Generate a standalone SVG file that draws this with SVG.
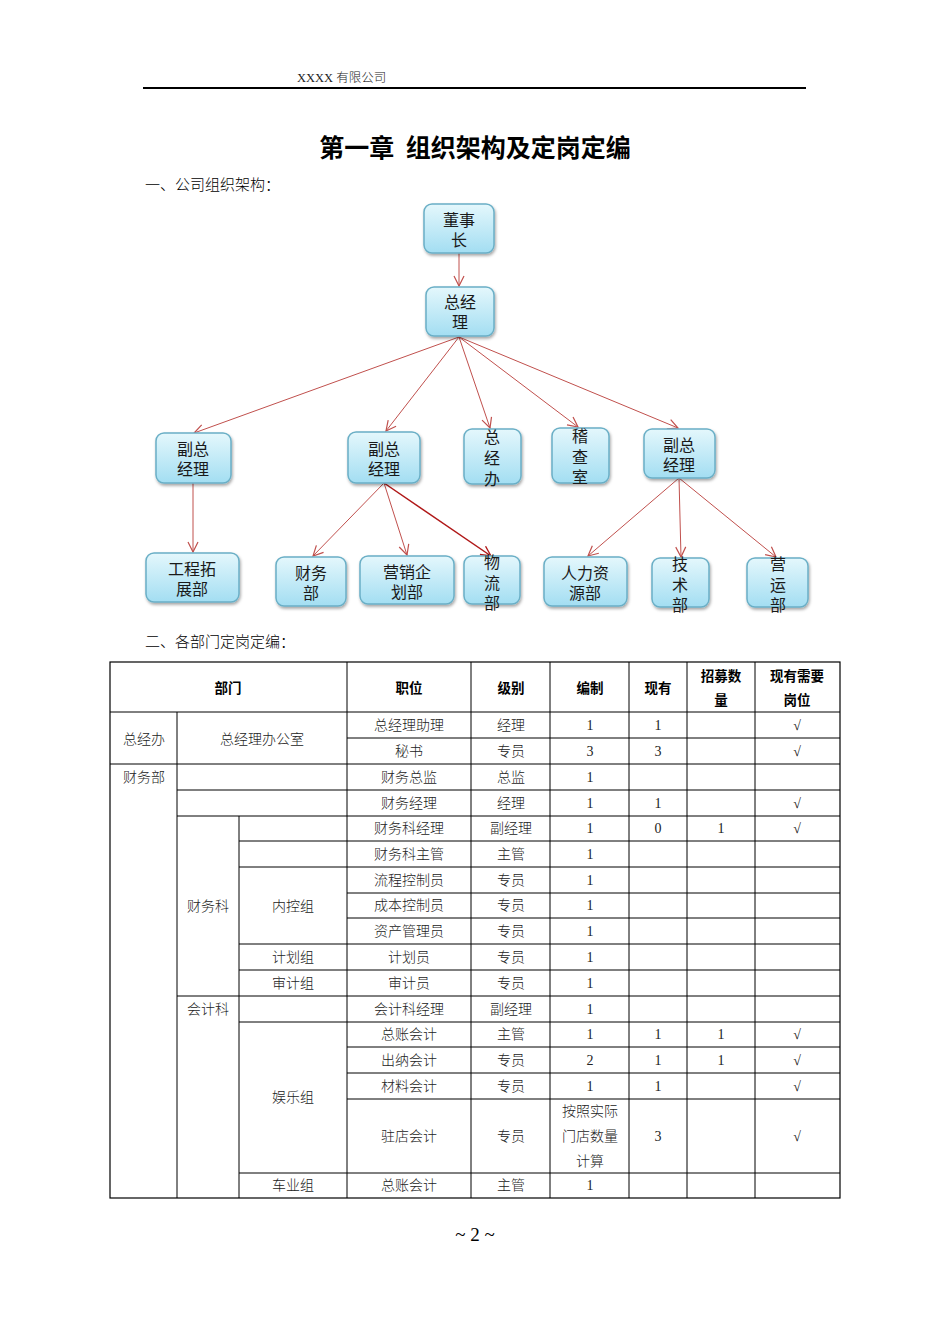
<svg xmlns="http://www.w3.org/2000/svg" width="950" height="1344" viewBox="0 0 950 1344">
<defs>
<linearGradient id="nodeGrad" x1="0" y1="0" x2="0" y2="1">
<stop offset="0" stop-color="#e4f7fc"/>
<stop offset="1" stop-color="#a3def2"/>
</linearGradient>
<filter id="shadow" x="-20%" y="-20%" width="150%" height="150%">
<feDropShadow dx="1" dy="2" stdDeviation="1.6" flood-color="#000" flood-opacity="0.35"/>
</filter>
<marker id="arrow" viewBox="0 0 12 12" refX="11" refY="6" markerWidth="12" markerHeight="12" markerUnits="userSpaceOnUse" orient="auto">
<path d="M1,1 L11,6 L1,11" fill="none" stroke="#c0504d" stroke-width="1.2"/>
</marker>
<marker id="arrowDark" viewBox="0 0 12 12" refX="11" refY="6" markerWidth="12" markerHeight="12" markerUnits="userSpaceOnUse" orient="auto">
<path d="M1,1 L11,6 L1,11" fill="none" stroke="#b01818" stroke-width="1.4"/>
</marker>
</defs>
<style>
.node rect { fill: url(#nodeGrad); stroke: #6aafc6; stroke-width: 1.5; filter: url(#shadow); }
.node text { font-family: "Noto Sans CJK SC", sans-serif; font-size: 16px; fill: #1a1a1a; text-anchor: middle; }
.conn line { stroke: #c0504d; stroke-width: 1; marker-end: url(#arrow); }
.conn line.dark { stroke: #b01818; stroke-width: 1.5; marker-end: url(#arrowDark); }
.tl { stroke: #000; stroke-width: 1; }
.th { font-family: "Noto Sans CJK SC", sans-serif; font-weight: bold; font-size: 13.5px; fill: #000; text-anchor: middle; }
.td { font-family: "Liberation Serif", "Noto Sans CJK SC", serif; font-size: 14px; fill: #222; text-anchor: middle; font-weight: 300; }
.h2 { font-family: "Liberation Serif", "Noto Sans CJK SC", serif; font-size: 15px; fill: #000; font-weight: 300; }
</style>
<rect width="950" height="1344" fill="#fff"/>

<!-- page header -->
<text x="297" y="82" font-family="Liberation Serif, Noto Sans CJK SC, serif" font-size="12.5" fill="#222" font-weight="300">XXXX 有限公司</text>
<line x1="143" y1="88" x2="806" y2="88" stroke="#000" stroke-width="2"/>

<text x="475" y="157" font-family="Noto Sans CJK SC, sans-serif" font-size="25" font-weight="bold" fill="#000" text-anchor="middle" xml:space="preserve">第一章  组织架构及定岗定编</text>
<text class="h2" x="145" y="190">一、公司组织架构：</text>

<!-- connectors -->
<g id="connectors" class="conn">
<line x1="459" y1="253" x2="459" y2="286"/>
<line x1="459" y1="337" x2="194" y2="433"/>
<line x1="459" y1="337" x2="386" y2="431"/>
<line x1="459" y1="337" x2="490" y2="428"/>
<line x1="459" y1="337" x2="578" y2="427"/>
<line x1="459" y1="337" x2="678" y2="428"/>
<line x1="193" y1="483" x2="193" y2="552"/>
<line x1="384" y1="483" x2="313" y2="556"/>
<line x1="384" y1="483" x2="407" y2="555"/>
<line class="dark" x1="384" y1="483" x2="491" y2="556"/>
<line x1="679" y1="478" x2="588" y2="556"/>
<line x1="679" y1="478" x2="681" y2="557"/>
<line x1="679" y1="478" x2="776" y2="557"/>
</g>

<!-- nodes -->
<g id="n-chairman" class="node"><rect x="424" y="204" width="70" height="49" rx="8"/><text x="459" y="226">董事</text><text x="459" y="246">长</text></g>
<g id="n-gm" class="node"><rect x="426" y="287" width="68" height="49" rx="8"/><text x="460" y="308">总经</text><text x="460" y="328">理</text></g>

<g id="n-vp1" class="node"><rect x="156" y="433" width="75" height="50" rx="8"/><text x="193" y="455">副总</text><text x="193" y="475">经理</text></g>
<g id="n-vp2" class="node"><rect x="348" y="432" width="72" height="51" rx="8"/><text x="384" y="455">副总</text><text x="384" y="475">经理</text></g>
<g id="n-gmo" class="node"><rect x="464" y="429" width="57" height="55" rx="8"/><text x="492" y="443">总</text><text x="492" y="464">经</text><text x="492" y="485">办</text></g>
<g id="n-audit" class="node"><rect x="552" y="428" width="57" height="55" rx="8"/><text x="580" y="442">稽</text><text x="580" y="463">查</text><text x="580" y="483">室</text></g>
<g id="n-vp3" class="node"><rect x="644" y="429" width="71" height="49" rx="8"/><text x="679" y="451">副总</text><text x="679" y="471">经理</text></g>

<g id="n-eng" class="node"><rect x="146" y="553" width="93" height="49" rx="8"/><text x="192" y="575">工程拓</text><text x="192" y="595">展部</text></g>
<g id="n-fin" class="node"><rect x="276" y="557" width="70" height="49" rx="8"/><text x="311" y="579">财务</text><text x="311" y="599">部</text></g>
<g id="n-mkt" class="node"><rect x="360" y="556" width="94" height="48" rx="8"/><text x="407" y="578">营销企</text><text x="407" y="598">划部</text></g>
<g id="n-log" class="node"><rect x="464" y="556" width="56" height="48" rx="8"/><text x="492" y="568">物</text><text x="492" y="589">流</text><text x="492" y="609">部</text></g>
<g id="n-hr" class="node"><rect x="544" y="557" width="83" height="49" rx="8"/><text x="585" y="579">人力资</text><text x="585" y="599">源部</text></g>
<g id="n-tech" class="node"><rect x="652" y="558" width="57" height="49" rx="8"/><text x="680" y="570">技</text><text x="680" y="591">术</text><text x="680" y="611">部</text></g>
<g id="n-ops" class="node"><rect x="747" y="558" width="61" height="49" rx="8"/><text x="778" y="570">营</text><text x="778" y="591">运</text><text x="778" y="611">部</text></g>

<text class="h2" x="145" y="647">二、各部门定岗定编：</text>

<!-- table -->
<g id="table">
<rect x="110" y="662" width="730" height="536" fill="none" stroke="#000" stroke-width="1.2"/>
<line class="tl" x1="177" y1="712" x2="177" y2="1198"/>
<line class="tl" x1="239" y1="816" x2="239" y2="1198"/>
<line class="tl" x1="347" y1="662" x2="347" y2="1198"/>
<line class="tl" x1="471" y1="662" x2="471" y2="1198"/>
<line class="tl" x1="550" y1="662" x2="550" y2="1198"/>
<line class="tl" x1="629" y1="662" x2="629" y2="1198" stroke="#555"/>
<line class="tl" x1="687" y1="662" x2="687" y2="1198"/>
<line class="tl" x1="755" y1="662" x2="755" y2="1198"/>
<line class="tl" x1="110" y1="712" x2="840" y2="712"/>
<line class="tl" x1="347" y1="738" x2="840" y2="738"/>
<line class="tl" x1="110" y1="764" x2="840" y2="764"/>
<line class="tl" x1="177" y1="790" x2="840" y2="790"/>
<line class="tl" x1="177" y1="816" x2="840" y2="816"/>
<line class="tl" x1="239" y1="841" x2="840" y2="841"/>
<line class="tl" x1="239" y1="867" x2="840" y2="867"/>
<line class="tl" x1="347" y1="893" x2="840" y2="893"/>
<line class="tl" x1="347" y1="918" x2="840" y2="918"/>
<line class="tl" x1="239" y1="944" x2="840" y2="944"/>
<line class="tl" x1="239" y1="970" x2="840" y2="970"/>
<line class="tl" x1="177" y1="996" x2="840" y2="996"/>
<line class="tl" x1="239" y1="1022" x2="840" y2="1022"/>
<line class="tl" x1="347" y1="1047" x2="840" y2="1047"/>
<line class="tl" x1="347" y1="1073" x2="840" y2="1073"/>
<line class="tl" x1="347" y1="1099" x2="840" y2="1099"/>
<line class="tl" x1="239" y1="1173" x2="840" y2="1173"/>

<text class="th" x="228" y="693">部门</text>
<text class="th" x="409" y="693">职位</text>
<text class="th" x="511" y="693">级别</text>
<text class="th" x="590" y="693">编制</text>
<text class="th" x="658" y="693">现有</text>
<text class="th" x="721" y="681">招募数</text>
<text class="th" x="721" y="705">量</text>
<text class="th" x="797" y="681">现有需要</text>
<text class="th" x="797" y="705">岗位</text>

<text class="td" x="144" y="744">总经办</text>
<text class="td" x="262" y="744">总经理办公室</text>
<text class="td" x="144" y="782">财务部</text>
<text class="td" x="208" y="911">财务科</text>
<text class="td" x="293" y="911">内控组</text>
<text class="td" x="293" y="962">计划组</text>
<text class="td" x="293" y="988">审计组</text>
<text class="td" x="208" y="1014">会计科</text>
<text class="td" x="293" y="1102">娱乐组</text>
<text class="td" x="293" y="1190">车业组</text>

<text class="td" x="409" y="730">总经理助理</text><text class="td" x="511" y="730">经理</text><text class="td" x="590" y="730">1</text><text class="td" x="658" y="730">1</text><text class="td" x="797" y="730">√</text>
<text class="td" x="409" y="756">秘书</text><text class="td" x="511" y="756">专员</text><text class="td" x="590" y="756">3</text><text class="td" x="658" y="756">3</text><text class="td" x="797" y="756">√</text>
<text class="td" x="409" y="782">财务总监</text><text class="td" x="511" y="782">总监</text><text class="td" x="590" y="782">1</text>
<text class="td" x="409" y="808">财务经理</text><text class="td" x="511" y="808">经理</text><text class="td" x="590" y="808">1</text><text class="td" x="658" y="808">1</text><text class="td" x="797" y="808">√</text>
<text class="td" x="409" y="833">财务科经理</text><text class="td" x="511" y="833">副经理</text><text class="td" x="590" y="833">1</text><text class="td" x="658" y="833">0</text><text class="td" x="721" y="833">1</text><text class="td" x="797" y="833">√</text>
<text class="td" x="409" y="859">财务科主管</text><text class="td" x="511" y="859">主管</text><text class="td" x="590" y="859">1</text>
<text class="td" x="409" y="885">流程控制员</text><text class="td" x="511" y="885">专员</text><text class="td" x="590" y="885">1</text>
<text class="td" x="409" y="910">成本控制员</text><text class="td" x="511" y="910">专员</text><text class="td" x="590" y="910">1</text>
<text class="td" x="409" y="936">资产管理员</text><text class="td" x="511" y="936">专员</text><text class="td" x="590" y="936">1</text>
<text class="td" x="409" y="962">计划员</text><text class="td" x="511" y="962">专员</text><text class="td" x="590" y="962">1</text>
<text class="td" x="409" y="988">审计员</text><text class="td" x="511" y="988">专员</text><text class="td" x="590" y="988">1</text>
<text class="td" x="409" y="1014">会计科经理</text><text class="td" x="511" y="1014">副经理</text><text class="td" x="590" y="1014">1</text>
<text class="td" x="409" y="1039">总账会计</text><text class="td" x="511" y="1039">主管</text><text class="td" x="590" y="1039">1</text><text class="td" x="658" y="1039">1</text><text class="td" x="721" y="1039">1</text><text class="td" x="797" y="1039">√</text>
<text class="td" x="409" y="1065">出纳会计</text><text class="td" x="511" y="1065">专员</text><text class="td" x="590" y="1065">2</text><text class="td" x="658" y="1065">1</text><text class="td" x="721" y="1065">1</text><text class="td" x="797" y="1065">√</text>
<text class="td" x="409" y="1091">材料会计</text><text class="td" x="511" y="1091">专员</text><text class="td" x="590" y="1091">1</text><text class="td" x="658" y="1091">1</text><text class="td" x="797" y="1091">√</text>
<text class="td" x="409" y="1141">驻店会计</text><text class="td" x="511" y="1141">专员</text><text class="td" x="590" y="1116">按照实际</text><text class="td" x="590" y="1141">门店数量</text><text class="td" x="590" y="1166">计算</text><text class="td" x="658" y="1141">3</text><text class="td" x="797" y="1141">√</text>
<text class="td" x="409" y="1190">总账会计</text><text class="td" x="511" y="1190">主管</text><text class="td" x="590" y="1190">1</text>
</g>

<text x="475" y="1241" font-family="Liberation Serif, serif" font-size="19" fill="#000" text-anchor="middle">~ 2 ~</text>
</svg>
